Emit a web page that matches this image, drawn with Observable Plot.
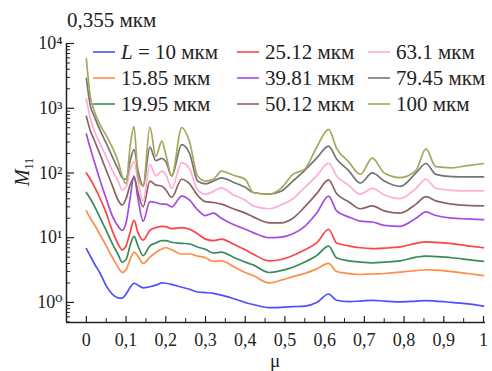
<!DOCTYPE html>
<html><head><meta charset="utf-8">
<script src="https://cdn.jsdelivr.net/npm/d3@7"></script>
<script src="https://cdn.jsdelivr.net/npm/@observablehq/plot@0.6"></script>
<style>body{margin:0;background:#fff}#c{width:492px;height:371px}
text{font-family:"Liberation Serif","DejaVu Serif",serif}</style>
</head><body><div id="c"></div>
<script>
// μ grid shared by all series
const mu = [0, 0.01, 0.02, 0.035, 0.05, 0.065, 0.08, 0.09, 0.1, 0.11, 0.12, 0.13, 0.143, 0.16, 0.175, 0.19, 0.2, 0.215, 0.24, 0.26, 0.28, 0.3, 0.32, 0.34, 0.37, 0.4, 0.42, 0.46, 0.49, 0.52, 0.55, 0.58, 0.61, 0.63, 0.66, 0.69, 0.72, 0.75, 0.79, 0.83, 0.855, 0.88, 0.92, 0.96, 1.0];

const m10    = [6.8, 5.2, 4.0, 2.8, 1.8, 1.35, 1.18, 1.17, 1.35, 1.7, 1.98, 1.85, 1.68, 1.75, 1.85, 2.0, 1.98, 1.9, 1.72, 1.6, 1.45, 1.42, 1.38, 1.3, 1.15, 1.0, 0.93, 0.83, 0.84, 0.86, 0.88, 1.0, 1.35, 1.08, 1.03, 1.05, 1.08, 1.05, 1.02, 1.05, 1.07, 1.05, 1.0, 0.95, 0.88];
const m15_85 = [26, 20, 16, 11, 7.5, 5.0, 3.5, 2.9, 3.2, 4.6, 6.0, 5.2, 4.0, 5.0, 5.9, 6.7, 7.0, 6.5, 5.6, 5.6, 5.2, 4.9, 4.3, 4.4, 3.6, 2.9, 2.6, 2.0, 2.2, 2.5, 2.8, 3.3, 4.0, 3.0, 2.8, 2.7, 2.75, 2.8, 2.95, 3.1, 3.2, 3.15, 3.0, 2.8, 2.6];
const m19_95 = [50, 40, 31, 20, 13, 8.2, 5.5, 4.2, 4.6, 7.5, 10.5, 7.5, 5.3, 7.5, 8.3, 9.0, 9.0, 8.5, 8.2, 8.0, 7.2, 6.6, 5.8, 6.0, 5.0, 4.2, 3.8, 2.9, 3.1, 3.5, 4.2, 5.3, 7.4, 4.9, 4.4, 4.2, 4.1, 4.2, 4.4, 5.0, 5.2, 5.1, 4.9, 4.6, 4.3];
const m25_12 = [100, 80, 62, 40, 24, 13, 8.0, 6.5, 7.5, 12, 18.5, 12, 9.2, 13, 14.3, 15, 14.8, 13.8, 14.3, 13.5, 11.5, 9.5, 9.0, 9.5, 8.0, 6.5, 5.6, 4.4, 4.6, 5.3, 6.5, 8.3, 13.5, 8.3, 7.5, 7.0, 6.8, 6.9, 7.2, 8.2, 8.6, 8.5, 8.1, 7.5, 7.0];
const m39_81 = [400, 240, 150, 75, 40, 22, 15, 13, 17, 40, 90, 40, 18, 36, 35, 33, 33, 30, 44, 38, 27, 22, 24, 20, 16, 13.5, 12, 10, 10.2, 11.5, 15, 24, 44, 26, 21, 18, 17.5, 15.5, 15, 20, 25, 22, 20, 19.5, 19];
const m50_12 = [750, 450, 320, 190, 110, 65, 38, 32, 40, 65, 85, 50, 30, 75, 65, 63, 55, 42, 80, 68, 45, 36, 35, 33, 28, 24, 21, 17, 17, 20, 30, 48, 78, 48, 36, 28, 31, 26, 24, 33, 43, 37, 33, 31.5, 31];
const m63_1  = [1400, 700, 450, 280, 180, 110, 75, 55, 60, 110, 150, 75, 37, 135, 90, 107, 95, 58, 145, 115, 55, 47, 52, 59, 46, 38, 31, 28, 32, 40, 60, 90, 142, 90, 65, 47, 58, 46, 40, 58, 80, 58, 54, 53, 53];
const m79_45 = [2900, 1100, 750, 450, 290, 180, 115, 85, 80, 150, 230, 110, 63, 250, 155, 168, 150, 90, 275, 200, 75, 68, 75, 84, 72, 60, 50, 47, 52, 75, 110, 170, 260, 165, 110, 70, 100, 75, 62, 100, 140, 95, 88, 87, 87];
const m100   = [5800, 1500, 900, 550, 380, 250, 150, 90, 68, 250, 520, 90, 63, 510, 180, 310, 195, 90, 500, 300, 90, 75, 80, 107, 92, 80, 50, 47, 58, 95, 115, 250, 470, 240, 150, 95, 170, 100, 85, 110, 235, 125, 120, 130, 140];

const seriesValues = [m10, m15_85, m19_95, m25_12, m39_81, m50_12, m63_1, m79_45, m100];
const seriesNames = ["10", "15.85", "19.95", "25.12", "39.81", "50.12", "63.1", "79.45", "100"];
const seriesColors = ["#4f4fff", "#ff8d45", "#3a8a5c", "#ff4242", "#a64be0", "#8d6262", "#ffadd3", "#747474", "#a6a65c"];

const xTicks = [0, 0.1, 0.2, 0.3, 0.4, 0.5, 0.6, 0.7, 0.8, 0.9, 1];
const xTickLabels = ["0", "0,1", "0,2", "0,3", "0,4", "0,5", "0,6", "0,7", "0,8", "0,9", "1"];
const xMinorTicks = [0.05, 0.15, 0.25, 0.35, 0.45, 0.55, 0.65, 0.75, 0.85, 0.95];
const yTicks = [1, 10, 100, 1000, 10000];
const yTickLabels = ["10⁰", "10¹", "10²", "10³", "10⁴"];

const unit = "мкм";
const titleText = "0,355 мкм";

const rows = [];
seriesValues.forEach((vals, i) => vals.forEach((v, j) => rows.push({mu: mu[j], v, s: seriesNames[i]})));

const yMinor = [];
[0.1, 1, 10, 100, 1000].forEach(dec => { for (let k = 2; k <= 9; k++) { const v = dec * k; if (v >= 0.49 && v < 10000) yMinor.push(v); } });

const W = 492, H = 371, mL = 66, mR = 7, mT = 43, mB = 49;
const fw = W - mL - mR, fh = H - mT - mB;
const xDomain = [-0.05, 1.005], yDomain = [0.49, 10000];
const ink = "#222";
const font = "'Liberation Serif', 'DejaVu Serif', serif";

const chart = Plot.plot({
  width: W, height: H, marginLeft: mL, marginRight: mR, marginTop: mT, marginBottom: mB,
  style: {fontFamily: font, fontSize: "18px", color: ink, background: "white", overflow: "visible"},
  x: {domain: xDomain},
  y: {type: "log", domain: yDomain},
  color: {domain: seriesNames, range: seriesColors},
  marks: [
    Plot.line(rows, {x: "mu", y: "v", stroke: "s", strokeWidth: 1.7, curve: "monotone-x"}),
    Plot.ruleX([xDomain[0]], {stroke: ink, strokeWidth: 1.5}),
    Plot.ruleY([yDomain[0]], {stroke: ink, strokeWidth: 1.5}),
    Plot.tickY(yTicks, {y: d => d, insetRight: fw - 8, stroke: ink, strokeWidth: 1.2}),
    Plot.tickY(yMinor, {y: d => d, insetRight: fw - 4, stroke: ink, strokeWidth: 1}),
    Plot.tickX(xTicks, {x: d => d, insetTop: fh - 6, stroke: ink, strokeWidth: 1.2}),
    Plot.tickX(xMinorTicks, {x: d => d, insetTop: fh - 4, stroke: ink, strokeWidth: 1}),
    Plot.axisX({ticks: xTicks, tickFormat: d => xTickLabels[Math.round(d * 10)], tickSize: 0, tickPadding: 11, label: null, fontSize: 18}),
    Plot.axisY({ticks: yTicks, tickFormat: d => yTickLabels[Math.round(Math.log10(d))], tickSize: 0, tickPadding: 4, label: null, fontSize: 18})
  ]
});

document.getElementById("c").appendChild(chart);
const svg = d3.select(chart);

// title
svg.append("text").attr("x", 67).attr("y", 27).attr("text-anchor", "start").attr("font-size", 21).attr("fill", ink).text(titleText);
// y label
const yl = svg.append("text").attr("transform", "translate(29,172) rotate(-90)").attr("text-anchor", "middle").attr("font-size", 20).attr("fill", ink);
yl.append("tspan").attr("font-style", "italic").text("M");
yl.append("tspan").attr("font-size", 12).attr("dy", 4).text("11");
// x label
svg.append("text").attr("x", 275).attr("y", 367).attr("text-anchor", "middle").attr("font-size", 19).attr("fill", ink).text("μ");

// legend
const colX = [93, 237, 368];
const rowY = [52, 78, 104];
const leg = svg.append("g").attr("font-size", 21).attr("fill", ink).attr("text-anchor", "start");
seriesNames.forEach((name, i) => {
  const c = Math.floor(i / 3), r = i % 3;
  const x0 = colX[c], y0 = rowY[r];
  leg.append("line").attr("x1", x0).attr("x2", x0 + 22).attr("y1", y0).attr("y2", y0).attr("stroke", seriesColors[i]).attr("stroke-width", 1.6);
  const t = leg.append("text").attr("x", x0 + 28).attr("y", y0 + 7);
  if (i === 0) {
    t.append("tspan").attr("font-style", "italic").text("L");
    t.append("tspan").text(" = " + name + " " + unit);
  } else {
    t.text(name + " " + unit);
  }
});
</script>
</body></html>
